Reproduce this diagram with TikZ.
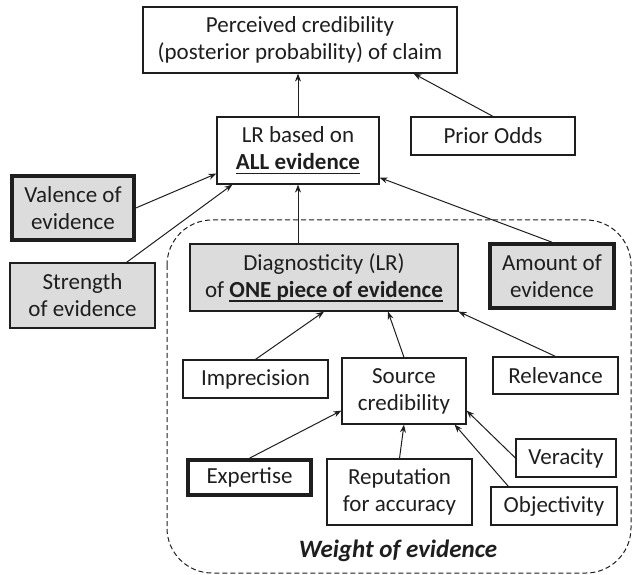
\documentclass[tikz,border=0pt]{standalone}
\usepackage{fontspec}
\setmainfont{Carlito}
\usetikzlibrary{arrows.meta}
\definecolor{boxgray}{HTML}{DCDCDC}
\definecolor{ink}{HTML}{1E1E1E}
\newcommand\ulbf[1]{\setbox0\hbox{\textbf{#1}}\rlap{\rule[-4.5pt]{\wd0}{1.6pt}}\box0}
\tikzset{
  box/.style={draw=ink, line width=1.2pt, align=center, inner sep=0pt, text=ink,
    font=\fontsize{23}{27}\selectfont},
  graybox/.style={box, fill=boxgray},
  thickbox/.style={line width=3.6pt},
  conn/.style={draw=ink, line width=1pt, -{Stealth[length=8pt,width=6pt]}},
}
\begin{document}
\begin{tikzpicture}[x=1pt,y=-1pt]
\useasboundingbox (0,0) rectangle (633,575);
% dashed region
\draw[ink, line width=1pt, dash pattern=on 5pt off 3pt, rounded corners=45pt] (167,220) rectangle (631,573);
\node[ink, font=\fontsize{25}{29}\selectfont\bfseries\itshape] (weight) at (398,551) {Weight of evidence};

\node[box, minimum width=314pt, minimum height=66pt] (top) at (300,40) {Perceived credibility\\(posterior probability) of claim};
\node[box, minimum width=162pt, minimum height=67pt] (lr) at (298,150.5) {LR based on\\\ulbf{ALL evidence}};
\node[box, minimum width=164pt, minimum height=38pt] (prior) at (493,136) {Prior Odds};
\node[graybox, thickbox, minimum width=122pt, minimum height=64pt] (valence) at (73,208) {Valence of\\evidence};
\node[graybox, minimum width=145pt, minimum height=65pt] (strength) at (82.5,295.5) {Strength\\of evidence};
\node[graybox, minimum width=268pt, minimum height=67pt] (diag) at (324,277.5) {Diagnosticity (LR)\\of \ulbf{ONE piece of evidence}};
\node[graybox, thickbox, minimum width=124pt, minimum height=64pt] (amount) at (552,276) {Amount of\\evidence};
\node[box, minimum width=145pt, minimum height=38pt] (imprecision) at (255.5,379) {Imprecision};
\node[box, minimum width=124pt, minimum height=66pt] (source) at (404,391) {Source\\credibility};
\node[box, minimum width=125pt, minimum height=37pt] (relevance) at (555.5,375.5) {Relevance};
\node[box, minimum width=100pt, minimum height=38pt] (veracity) at (566,458) {Veracity};
\node[box, thickbox, minimum width=123pt, minimum height=35pt] (expertise) at (249.5,477.5) {Expertise};
\node[box, minimum width=145pt, minimum height=66pt] (reputation) at (399.5,492) {Reputation\\for accuracy};
\node[box, minimum width=126pt, minimum height=38pt] (objectivity) at (554,506) {Objectivity};

% connectors
\draw[conn] (lr.north) -- (lr.north |- top.south);
\draw[conn] (prior.north) -- ([xshift=-44pt]top.south east);
\draw[conn] (valence.east) -- ([yshift=11pt]lr.south west);
\draw[conn] ([xshift=44pt]strength.north) -- ([xshift=16pt]lr.south west);
\draw[conn] (diag.north -| lr.south) -- (lr.south);
\draw[conn] (amount.north) -- ([yshift=7pt]lr.south east);
\draw[conn] (imprecision.north) -- (diag.south);
\draw[conn] (source.north) -- ([xshift=64pt]diag.south);
\draw[conn] (relevance.north) -- (diag.south east);
\draw[conn] (expertise.north) -- ([yshift=14pt]source.south west);
\draw[conn] (reputation.north) -- (source.south);
\draw[conn] (veracity.west) -- ([yshift=14pt]source.south east);
\draw[conn] ([xshift=18pt]objectivity.north west) -- ([xshift=-12pt]source.south east);
\end{tikzpicture}
\end{document}
